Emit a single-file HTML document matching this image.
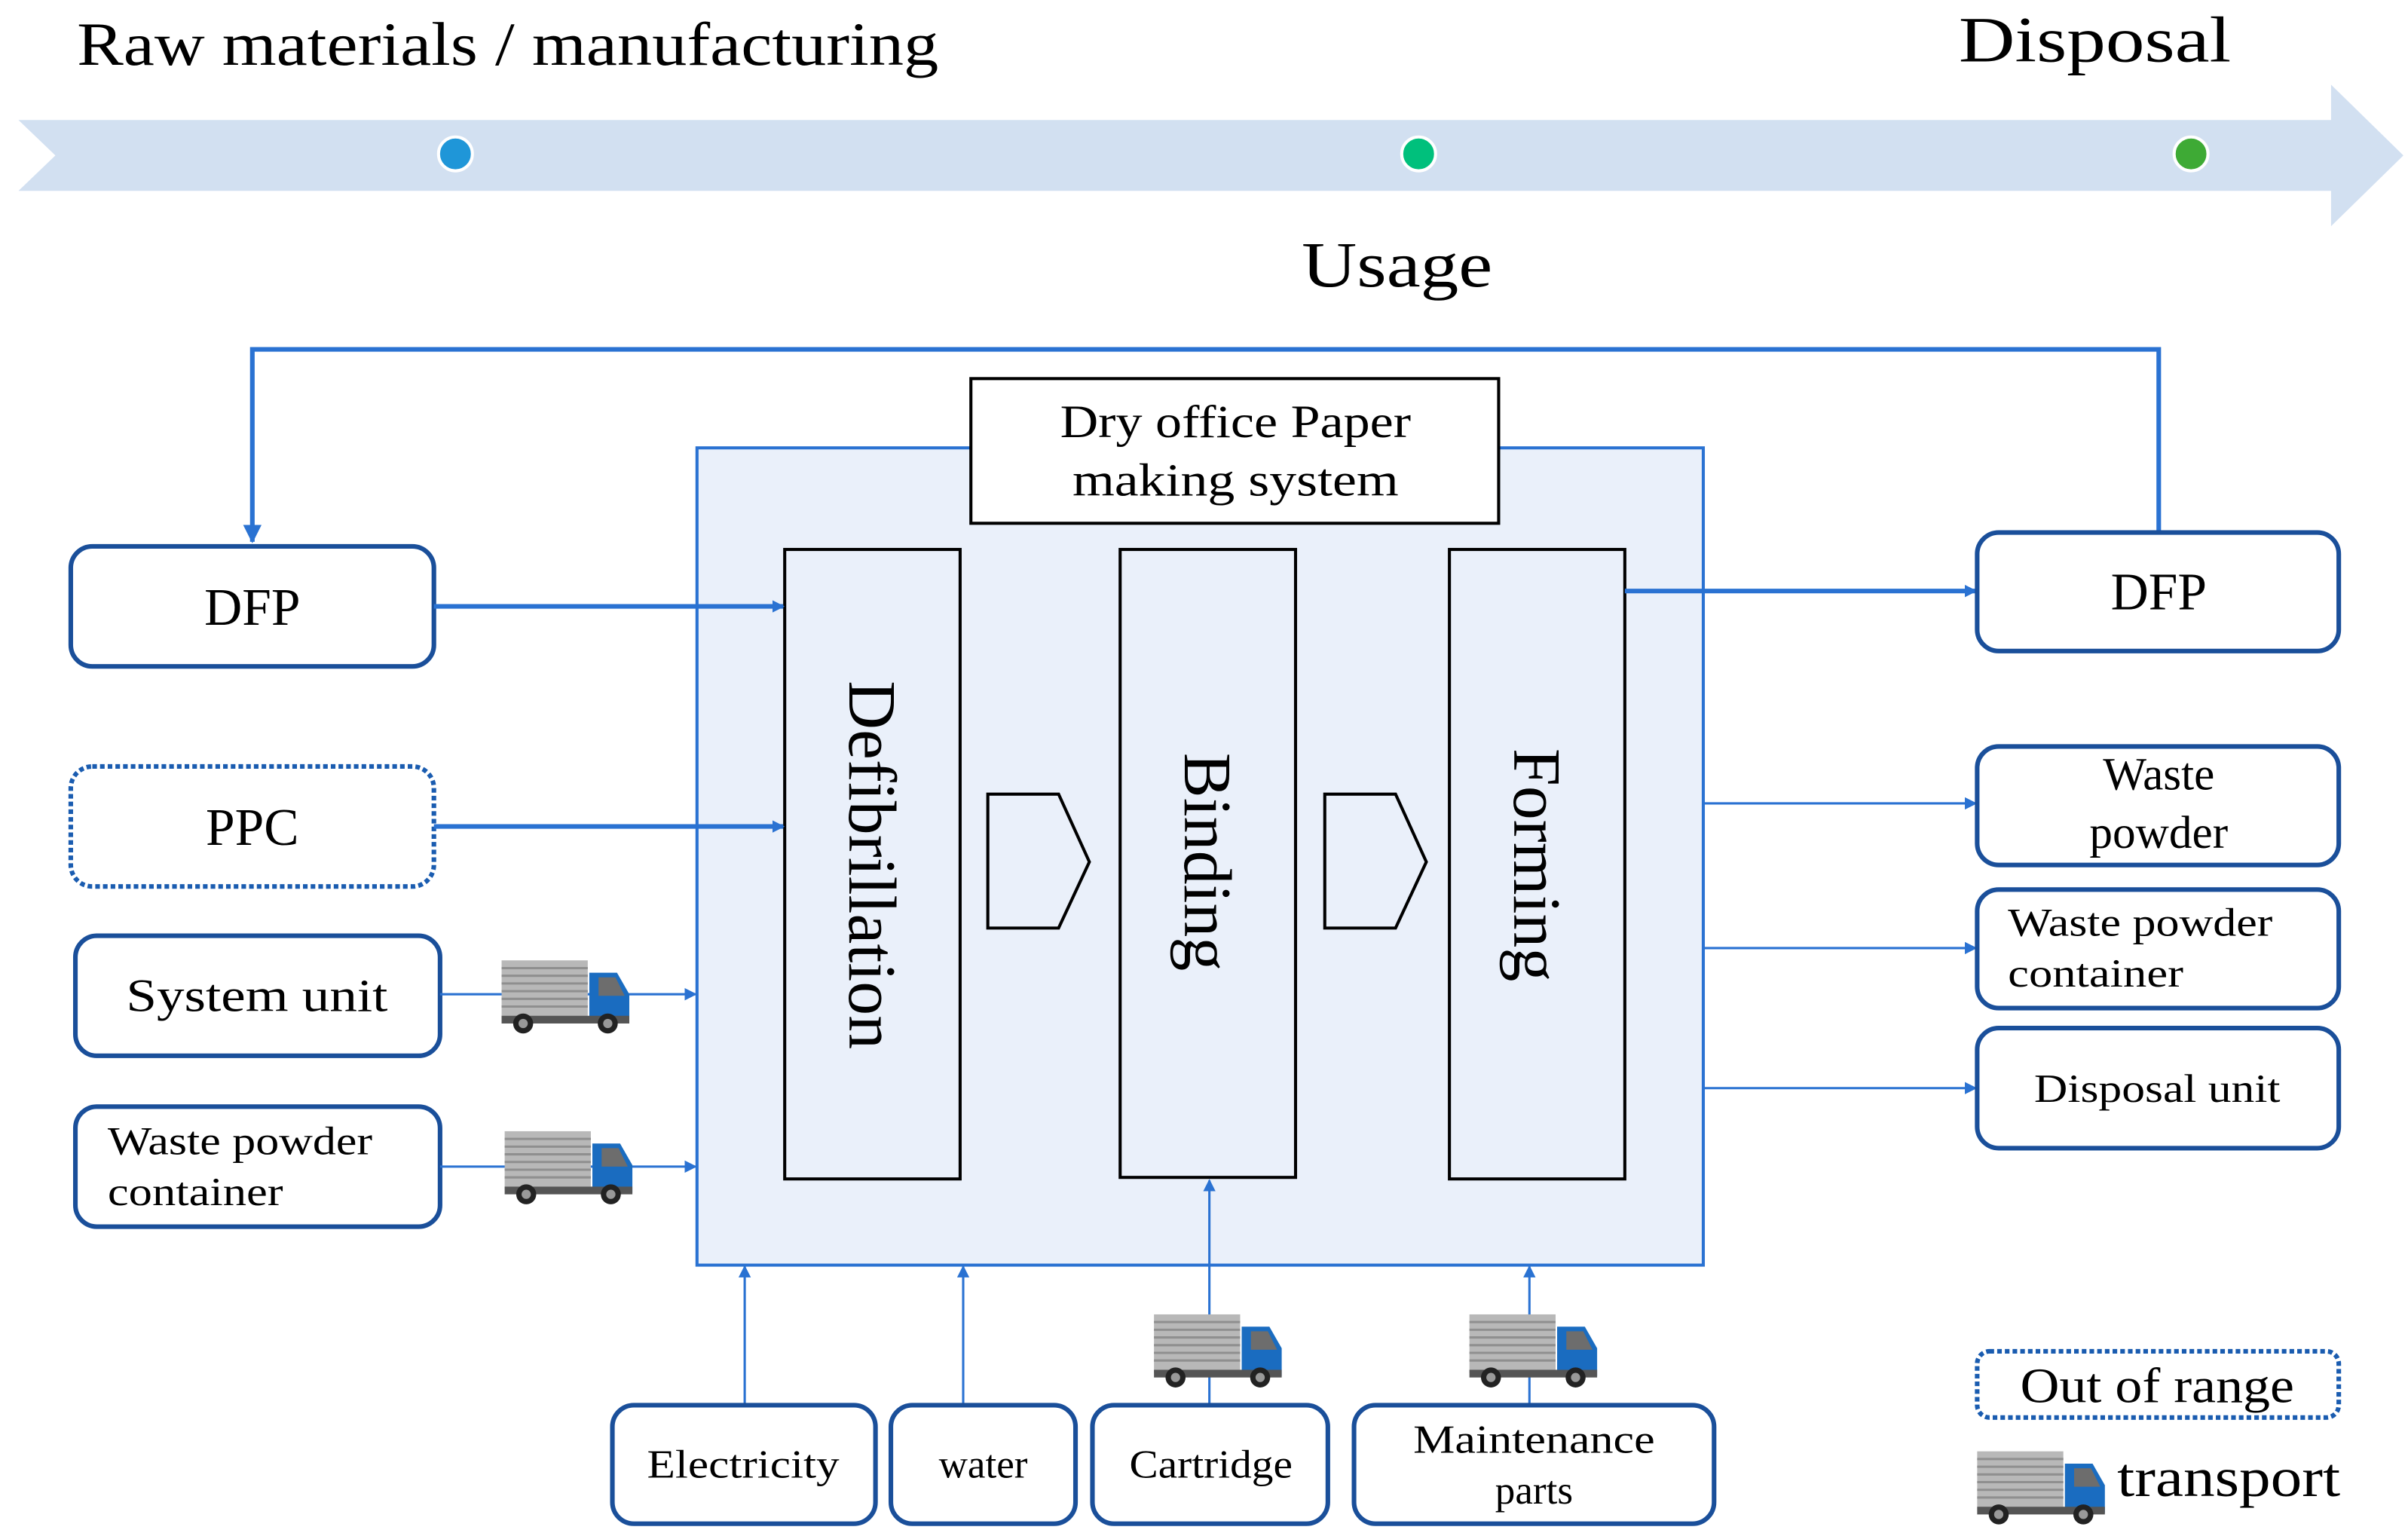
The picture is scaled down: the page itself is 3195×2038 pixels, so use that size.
<!DOCTYPE html>
<html><head><meta charset="utf-8"><style>
html,body{margin:0;padding:0;background:#fff;}
svg{display:block;}
text{font-family:"Liberation Serif",serif;fill:#000;}
</style></head><body>
<svg width="3195" height="2038" viewBox="0 0 1565 998" preserveAspectRatio="none" xmlns="http://www.w3.org/2000/svg">
<defs>
<marker id="ah" markerWidth="8" markerHeight="8" refX="7" refY="4" orient="auto" markerUnits="userSpaceOnUse"><path d="M0,0 L8,4 L0,8 Z" fill="#2a72d2"/></marker>
<marker id="ah2" markerWidth="12" markerHeight="12" refX="11" refY="6" orient="auto" markerUnits="userSpaceOnUse"><path d="M0,0 L12,6 L0,12 Z" fill="#2a72d2"/></marker>
<symbol id="truck" viewBox="0 0 85 50">
<rect x="1" y="2" width="56" height="38" fill="#b8b8b8"/>
<g stroke="#8f8f8f" stroke-width="1.5"><line x1="1" y1="7" x2="57" y2="7"/><line x1="1" y1="12" x2="57" y2="12"/><line x1="1" y1="17" x2="57" y2="17"/><line x1="1" y1="22" x2="57" y2="22"/><line x1="1" y1="27" x2="57" y2="27"/><line x1="1" y1="32" x2="57" y2="32"/></g>
<path d="M58,10 L76,10 L84,24 L84,42 L58,42 Z" fill="#1a6cc0"/>
<path d="M64,13 L75,13 L81,25 L64,25 Z" fill="#6d6d6d"/>
<rect x="1" y="38" width="83" height="5" fill="#555"/>
<circle cx="15" cy="43" r="6.5" fill="#222"/><circle cx="15" cy="43" r="3" fill="#999"/>
<circle cx="70" cy="43" r="6.5" fill="#222"/><circle cx="70" cy="43" r="3" fill="#999"/>
</symbol>
</defs>

<text x="50" y="42" font-size="40" textLength="560" lengthAdjust="spacingAndGlyphs">Raw materials / manufacturing</text>
<text x="1273" y="40" font-size="42" textLength="177" lengthAdjust="spacingAndGlyphs">Disposal</text>
<path d="M12,78 L1515,78 L1515,55 L1562,101 L1515,147 L1515,124 L12,124 L36,101 Z" fill="#d2e0f1"/>
<circle cx="296" cy="100" r="11" fill="#1f96d8" stroke="#fff" stroke-width="2"/>
<circle cx="922" cy="100" r="11" fill="#00c07c" stroke="#fff" stroke-width="2"/>
<circle cx="1424" cy="100" r="11" fill="#3eaa35" stroke="#fff" stroke-width="2"/>
<text x="846" y="186" font-size="42" textLength="124" lengthAdjust="spacingAndGlyphs">Usage</text>

<path d="M1403,345 L1403,227 L164,227 L164,352" fill="none" stroke="#2a72d2" stroke-width="3" marker-end="url(#ah2)"/>

<rect x="453" y="291" width="654" height="531" fill="#eaf0fa" stroke="#2a72d2" stroke-width="2"/>
<rect x="631" y="246" width="343" height="94" fill="#fff" stroke="#000" stroke-width="2"/>
<text x="803" y="284" font-size="30" text-anchor="middle" textLength="228" lengthAdjust="spacingAndGlyphs">Dry office Paper</text>
<text x="803" y="322" font-size="30" text-anchor="middle" textLength="212" lengthAdjust="spacingAndGlyphs">making system</text>

<rect x="510" y="357" width="114" height="409" fill="#eaf0fa" stroke="#000" stroke-width="2"/>
<rect x="728" y="357" width="114" height="408" fill="#eaf0fa" stroke="#000" stroke-width="2"/>
<rect x="942" y="357" width="114" height="409" fill="#eaf0fa" stroke="#000" stroke-width="2"/>
<text transform="translate(552,562) rotate(90)" font-size="44" text-anchor="middle">Defibrillation</text>
<text transform="translate(770,560) rotate(90)" font-size="44" text-anchor="middle">Binding</text>
<text transform="translate(984,562) rotate(90)" font-size="44" text-anchor="middle">Forming</text>
<path d="M642,516 L688,516 L708,560 L688,603 L642,603 Z" fill="#eaf0fa" stroke="#000" stroke-width="2"/>
<path d="M861,516 L907,516 L927,560 L907,603 L861,603 Z" fill="#eaf0fa" stroke="#000" stroke-width="2"/>

<g fill="#fff" stroke="#1a4f9a" stroke-width="3">
<rect x="46" y="355" width="236" height="78" rx="14"/>
<rect x="46" y="498" width="236" height="78" rx="14" stroke-dasharray="3,2" stroke="#1a5cb0"/>
<rect x="49" y="608" width="237" height="78" rx="14"/>
<rect x="49" y="719" width="237" height="78" rx="14"/>
</g>
<text x="164" y="406" font-size="34" text-anchor="middle">DFP</text>
<text x="164" y="549" font-size="34" text-anchor="middle">PPC</text>
<text x="167" y="657" font-size="30" text-anchor="middle" textLength="170" lengthAdjust="spacingAndGlyphs">System unit</text>
<text x="70" y="750" font-size="26" textLength="172" lengthAdjust="spacingAndGlyphs">Waste powder</text>
<text x="70" y="783" font-size="26" textLength="114" lengthAdjust="spacingAndGlyphs">container</text>

<g stroke="#2a72d2" fill="none">
<line x1="282" y1="394" x2="509" y2="394" stroke-width="3" marker-end="url(#ah)"/>
<line x1="282" y1="537" x2="509" y2="537" stroke-width="3" marker-end="url(#ah)"/>
<line x1="286" y1="646" x2="452" y2="646" stroke-width="1.5" marker-end="url(#ah)"/>
<line x1="286" y1="758" x2="452" y2="758" stroke-width="1.5" marker-end="url(#ah)"/>
<line x1="1056" y1="384" x2="1284" y2="384" stroke-width="3" marker-end="url(#ah)"/>
<line x1="1107" y1="522" x2="1284" y2="522" stroke-width="1.5" marker-end="url(#ah)"/>
<line x1="1107" y1="616" x2="1284" y2="616" stroke-width="1.5" marker-end="url(#ah)"/>
<line x1="1107" y1="707" x2="1284" y2="707" stroke-width="1.5" marker-end="url(#ah)"/>
<line x1="484" y1="913" x2="484" y2="823" stroke-width="1.5" marker-end="url(#ah)"/>
<line x1="626" y1="913" x2="626" y2="823" stroke-width="1.5" marker-end="url(#ah)"/>
<line x1="786" y1="913" x2="786" y2="767" stroke-width="1.5" marker-end="url(#ah)"/>
<line x1="994" y1="913" x2="994" y2="823" stroke-width="1.5" marker-end="url(#ah)"/>
</g>

<use href="#truck" x="325" y="622" width="85" height="50"/>
<use href="#truck" x="327" y="733" width="85" height="50"/>
<use href="#truck" x="749" y="852" width="85" height="50"/>
<use href="#truck" x="954" y="852" width="85" height="50"/>
<use href="#truck" x="1284" y="941" width="85" height="50"/>

<g fill="#fff" stroke="#1a4f9a" stroke-width="3">
<rect x="1285" y="346" width="235" height="77" rx="14"/>
<rect x="1285" y="485" width="235" height="77" rx="14"/>
<rect x="1285" y="578" width="235" height="77" rx="14"/>
<rect x="1285" y="668" width="235" height="78" rx="14"/>
<rect x="1285" y="878" width="235" height="43" rx="8" stroke-dasharray="3,2" stroke="#1a5cb0"/>
</g>
<text x="1403" y="396" font-size="34" text-anchor="middle">DFP</text>
<text x="1403" y="513" font-size="30" text-anchor="middle">Waste</text>
<text x="1403" y="551" font-size="30" text-anchor="middle">powder</text>
<text x="1305" y="608" font-size="26" textLength="172" lengthAdjust="spacingAndGlyphs">Waste powder</text>
<text x="1305" y="641" font-size="26" textLength="114" lengthAdjust="spacingAndGlyphs">container</text>
<text x="1402" y="716" font-size="26" text-anchor="middle" textLength="160" lengthAdjust="spacingAndGlyphs">Disposal unit</text>
<text x="1402" y="911" font-size="32" text-anchor="middle" textLength="178" lengthAdjust="spacingAndGlyphs">Out of range</text>
<text x="1376" y="972" font-size="36" textLength="145" lengthAdjust="spacingAndGlyphs">transport</text>

<g fill="#fff" stroke="#1a4f9a" stroke-width="3">
<rect x="398" y="913" width="171" height="77" rx="14"/>
<rect x="579" y="913" width="120" height="77" rx="14"/>
<rect x="710" y="913" width="153" height="77" rx="14"/>
<rect x="880" y="913" width="234" height="77" rx="14"/>
</g>
<text x="483" y="960" font-size="26" text-anchor="middle" textLength="125" lengthAdjust="spacingAndGlyphs">Electricity</text>
<text x="639" y="960" font-size="26" text-anchor="middle">water</text>
<text x="787" y="960" font-size="26" text-anchor="middle" textLength="106" lengthAdjust="spacingAndGlyphs">Cartridge</text>
<text x="997" y="944" font-size="26" text-anchor="middle" textLength="157" lengthAdjust="spacingAndGlyphs">Maintenance</text>
<text x="997" y="977" font-size="26" text-anchor="middle">parts</text>
</svg>
</body></html>
